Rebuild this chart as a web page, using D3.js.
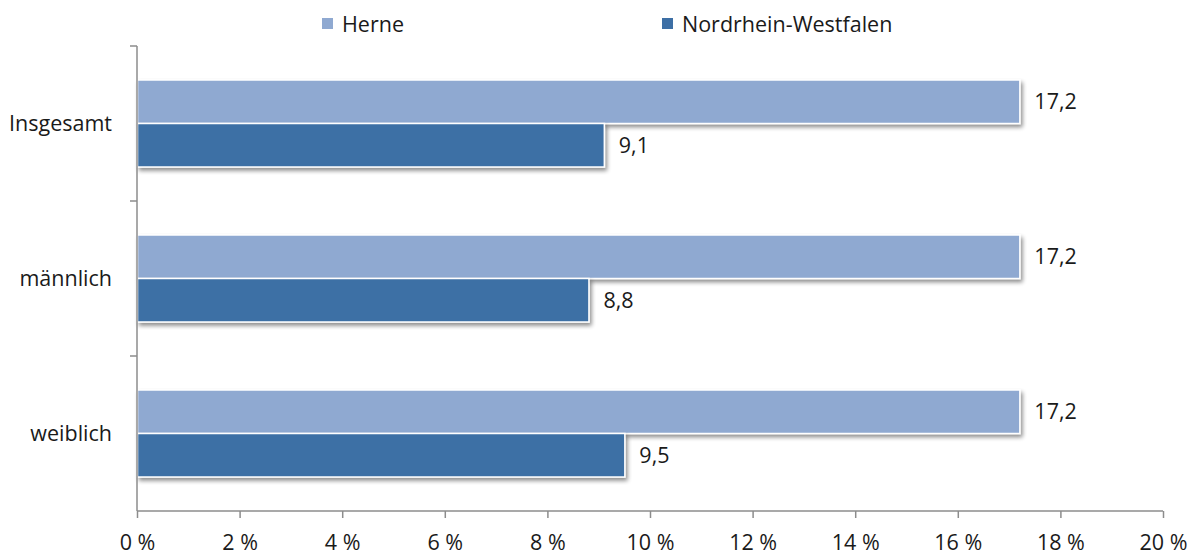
<!DOCTYPE html>
<html><head><meta charset="utf-8">
<script src="https://cdn.jsdelivr.net/npm/d3@7"></script>
<style>
body{margin:0;background:#fff;}
text{font-family:"Open Sans",Lato,sans-serif;fill:#1a1a1a;}
</style></head><body>
<svg id="c" width="1198" height="555"></svg>
<script>
const categories = ["Insgesamt", "männlich", "weiblich"];
const seriesNames = ["Herne", "Nordrhein-Westfalen"];
const herne = [17.2, 17.2, 17.2];
const nrw = [9.1, 8.8, 9.5];
const xTicks = [0, 2, 4, 6, 8, 10, 12, 14, 16, 18, 20];
const colors = ["#8FA9D1", "#3D6FA5"];
const FS = 21.5;

const svg = d3.select("#c");
const defs = svg.append("defs");
const f = defs.append("filter").attr("id","sh").attr("x","-5%").attr("y","-20%").attr("width","110%").attr("height","160%");
f.append("feGaussianBlur").attr("in","SourceAlpha").attr("stdDeviation",2);
f.append("feOffset").attr("dx",1.5).attr("dy",3).attr("result","b");
f.append("feComponentTransfer").append("feFuncA").attr("type","linear").attr("slope",0.45);
const m = f.append("feMerge"); m.append("feMergeNode"); m.append("feMergeNode").attr("in","SourceGraphic");

const x = d3.scaleLinear().domain([0,20]).range([137,1163]);
const y = d3.scaleBand().domain(categories).range([46,511]);
const inner = d3.scaleBand().domain(seriesNames).range([y.bandwidth()/2-43.5, y.bandwidth()/2+43.5]);

const data = categories.map((c,i)=>({c, vals:[herne[i], nrw[i]]}));

// bars
const g = svg.append("g");
data.forEach(d=>{
  d.vals.forEach((v,j)=>{
    const s = seriesNames[j];
    g.append("rect")
      .attr("x", x(0)+0.5)
      .attr("y", y(d.c)+inner(s))
      .attr("width", x(v)-x(0))
      .attr("height", inner.bandwidth())
      .attr("fill", colors[j])
      .attr("stroke","#fff").attr("stroke-width",1.5)
      .attr("filter","url(#sh)");
    g.append("text")
      .attr("x", x(v)+15)
      .attr("y", y(d.c)+inner(s)+inner.bandwidth()/2)
      .attr("dy","0.35em")
      .attr("font-size",FS)
      .text(d3.format(".1f")(v).replace(".",","));
  });
});

// x axis
const xa = svg.append("g").attr("transform","translate(0,511)")
  .call(d3.axisBottom(x).tickValues(xTicks).tickSize(7).tickFormat(d=>d+" %"));
xa.select(".domain").attr("stroke","#8c8c8c").attr("stroke-width",1.5).attr("d","M137,0H1163");
xa.selectAll(".tick line").attr("stroke","#8c8c8c").attr("stroke-width",1.5);
xa.selectAll(".tick text").attr("font-size",FS).attr("fill","#1a1a1a").attr("font-family","'Open Sans',Lato,sans-serif")
  .attr("y",39).attr("dy","0");

// y axis
const yTickPos = [46, ...categories.map(c=>y(c)+y.bandwidth())];
const ya = svg.append("g");
ya.append("line").attr("x1",137).attr("x2",137).attr("y1",46).attr("y2",511).attr("stroke","#8c8c8c").attr("stroke-width",1.5);
yTickPos.slice(0,3).forEach(p=>{
  ya.append("line").attr("x1",130).attr("x2",137).attr("y1",p).attr("y2",p).attr("stroke","#8c8c8c").attr("stroke-width",1.5);
});
categories.forEach(c=>{
  ya.append("text").attr("x",112).attr("y",y(c)+y.bandwidth()/2).attr("dy","0.35em")
    .attr("text-anchor","end").attr("font-size",FS).text(c);
});

// legend
const legX = [322, 662];
seriesNames.forEach((s,i)=>{
  svg.append("rect").attr("x",legX[i]).attr("y",18).attr("width",11).attr("height",11).attr("fill",colors[i]);
  svg.append("text").attr("x",legX[i]+20).attr("y",24).attr("dy","0.35em").attr("font-size",FS).text(s);
});
</script>
</body></html>
